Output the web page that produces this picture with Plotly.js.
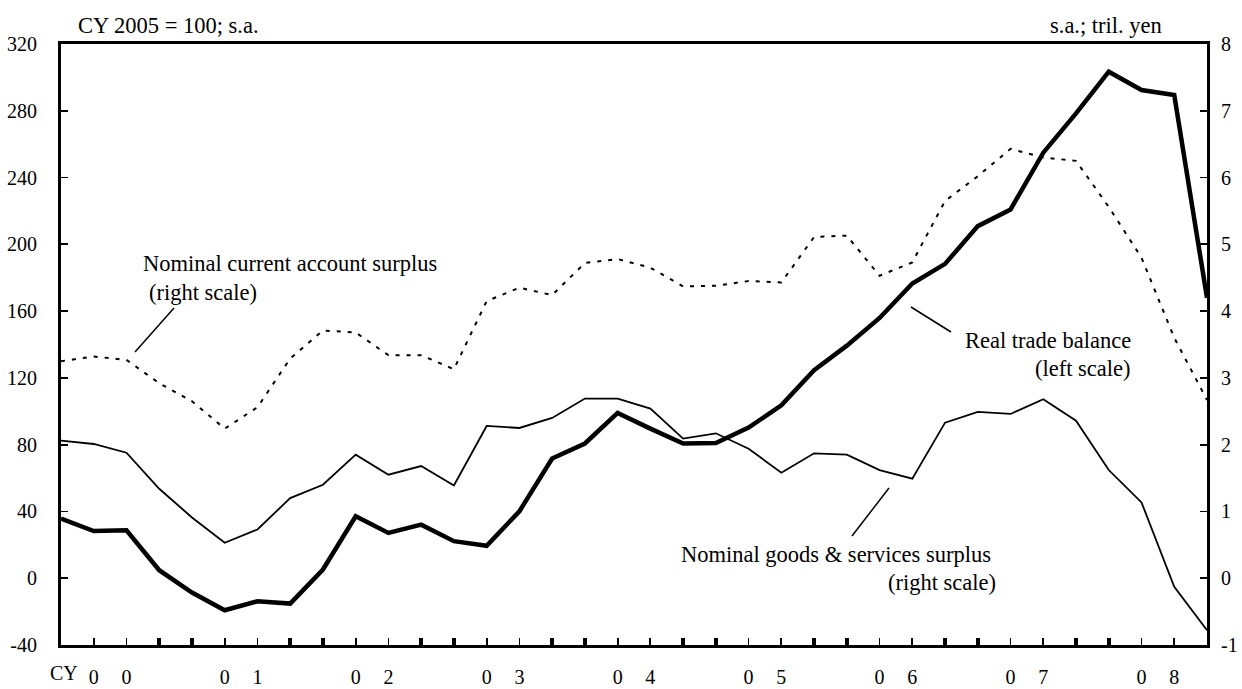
<!DOCTYPE html>
<html>
<head>
<meta charset="utf-8">
<script src="https://cdn.plot.ly/plotly-3.0.1.min.js"></script>
<style>html,body{margin:0;padding:0;background:#fff;}#chart{width:1242px;height:689px;}</style>
</head>
<body>
<div id="chart"></div>
<script>
// Quarterly data, 2000 Q1 .. 2008 Q4
const years = ['00','01','02','03','04','05','06','07','08'];
const quarterIndex = [0,1,2,3,4,5,6,7,8,9,10,11,12,13,14,15,16,17,18,19,20,21,22,23,24,25,26,27,28,29,30,31,32,33,34,35];

// Real trade balance (left scale, CY 2005 = 100)
const realTradeBalance = [35.7, 28.3, 28.7, 4.8, -8.6, -19.2, -13.8, -15.2, 5.2, 37.1, 27.1, 32.1,
  22.2, 19.4, 40.1, 71.7, 80.7, 99.0, 89.6, 80.7, 81.0, 90.2, 103.6, 124.6,
  139.3, 155.9, 176.5, 188.3, 210.9, 220.9, 254.9, 278.4, 303.4, 292.4, 289.4, 167.9];

// Nominal goods & services surplus (right scale, tril. yen)
const goodsServicesSurplus = [2.06, 2.01, 1.88, 1.34, 0.91, 0.53, 0.73, 1.20, 1.40, 1.85, 1.55, 1.68,
  1.39, 2.28, 2.25, 2.40, 2.69, 2.69, 2.54, 2.09, 2.17, 1.94, 1.58, 1.87,
  1.85, 1.62, 1.49, 2.33, 2.49, 2.46, 2.68, 2.36, 1.62, 1.135, -0.13, -0.78];

// Nominal current account surplus (right scale, tril. yen)
const currentAccountSurplus = [3.25, 3.32, 3.27, 2.92, 2.65, 2.24, 2.56, 3.29, 3.71, 3.68, 3.34, 3.34,
  3.13, 4.15, 4.35, 4.24, 4.72, 4.78, 4.65, 4.37, 4.38, 4.45, 4.43, 5.11,
  5.13, 4.53, 4.73, 5.65, 6.02, 6.43, 6.30, 6.25, 5.56, 4.80, 3.60, 2.67];

const leftTicks = [-40, 0, 40, 80, 120, 160, 200, 240, 280, 320];
const rightTicks = [-1, 0, 1, 2, 3, 4, 5, 6, 7, 8];

// all quarter ticks; year digits under 2nd and 3rd quarter ticks; thick ticks at year boundaries
const tickText = quarterIndex.map(() => '');
const thickVals = [];
years.forEach((y, k) => {
  tickText[4*k+1] = y[0];
  tickText[4*k+2] = y[1];
  if (4*k+4 <= 35) thickVals.push(4*k+3, 4*k+4);
});

const FONT = 'Liberation Serif, Times New Roman, serif';
const L = 61, T = 44, W = 1146, H = 601;
const px = x => (x - L) / W;
const py = y => (T + H - y) / H;

const traces = [
  {x: quarterIndex, y: currentAccountSurplus, yaxis: 'y2', type: 'scatter', mode: 'lines',
   line: {color: '#000', width: 2, dash: '4px,7px'}, hoverinfo: 'skip', name: 'Nominal current account surplus'},
  {x: quarterIndex, y: goodsServicesSurplus, yaxis: 'y2', type: 'scatter', mode: 'lines',
   line: {color: '#000', width: 1.8}, hoverinfo: 'skip', name: 'Nominal goods & services surplus'},
  {x: quarterIndex, y: realTradeBalance, yaxis: 'y', type: 'scatter', mode: 'lines',
   line: {color: '#000', width: 4.5}, hoverinfo: 'skip', name: 'Real trade balance'},
  {x: [null], y: [null], xaxis: 'x2', yaxis: 'y', type: 'scatter', mode: 'lines', hoverinfo: 'skip', showlegend: false}
];

const ann = (text, x, y, xanchor) => ({text, x: px(x), y: py(y), xref: 'paper', yref: 'paper',
  xanchor, yanchor: 'middle', showarrow: false, font: {family: FONT, size: 22.5, color: '#000'}});
const seg = (x0, y0, x1, y1) => ({type: 'line', xref: 'paper', yref: 'paper',
  x0: px(x0), y0: py(y0), x1: px(x1), y1: py(y1), line: {color: '#000', width: 1.5}});

const layout = {
  width: 1242, height: 689,
  margin: {l: L, r: 1242 - L - W, t: T, b: 689 - T - H, pad: 0},
  paper_bgcolor: '#fff', plot_bgcolor: '#fff',
  showlegend: false,
  font: {family: FONT, size: 20, color: '#000'},
  xaxis: {range: [0, 35], tickmode: 'array', tickvals: quarterIndex, ticktext: tickText,
    ticks: 'inside', ticklen: 7, tickwidth: 1.8, tickcolor: '#000',
    showline: true, linewidth: 3, linecolor: '#000', mirror: true,
    showgrid: false, zeroline: false, ticklabelstandoff: 12,
    tickfont: {family: FONT, size: 20, color: '#000'}},
  xaxis2: {range: [0, 35], overlaying: 'x', anchor: 'y', side: 'bottom',
    tickmode: 'array', tickvals: thickVals, ticktext: thickVals.map(() => ''),
    ticks: 'inside', ticklen: 7, tickwidth: 3.5, tickcolor: '#000',
    showticklabels: false, showline: false, showgrid: false, zeroline: false},
  yaxis: {range: [-40, 320], tickmode: 'array', tickvals: leftTicks, ticktext: leftTicks.map(String),
    ticks: 'inside', ticklen: 7, tickwidth: 1.8, tickcolor: '#000',
    showline: true, linewidth: 3, linecolor: '#000', showgrid: false, zeroline: false,
    ticklabelstandoff: 17, tickfont: {family: FONT, size: 20, color: '#000'}},
  yaxis2: {range: [-1, 8], overlaying: 'y', side: 'right', anchor: 'x', tickmode: 'array',
    tickvals: rightTicks, ticktext: rightTicks.map(String),
    ticks: 'inside', ticklen: 7, tickwidth: 1.8, tickcolor: '#000',
    showline: true, linewidth: 3, linecolor: '#000', showgrid: false, zeroline: false,
    ticklabelstandoff: 7, tickfont: {family: FONT, size: 20, color: '#000'}},
  annotations: [
    ann('CY 2005 = 100; s.a.', 76, 25, 'left'),
    ann('s.a.; tril. yen', 1164, 25, 'right'),
    ann('Nominal current account surplus', 141, 263, 'left'),
    ann('(right scale)', 147, 292, 'left'),
    ann('Real trade balance', 1133, 340, 'right'),
    ann('(left scale)', 1133, 368, 'right'),
    ann('Nominal goods & services surplus', 679, 554, 'left'),
    ann('(right scale)', 998, 582, 'right'),
    Object.assign(ann('CY', 80, 673, 'right'), {font: {family: FONT, size: 20, color: '#000'}})
  ],
  shapes: [
    seg(135, 352, 174, 308),
    seg(911, 307, 951, 332),
    seg(852, 536, 889, 488)
  ]
};

Plotly.newPlot('chart', traces, layout, {displayModeBar: false, staticPlot: true});
</script>
</body>
</html>
